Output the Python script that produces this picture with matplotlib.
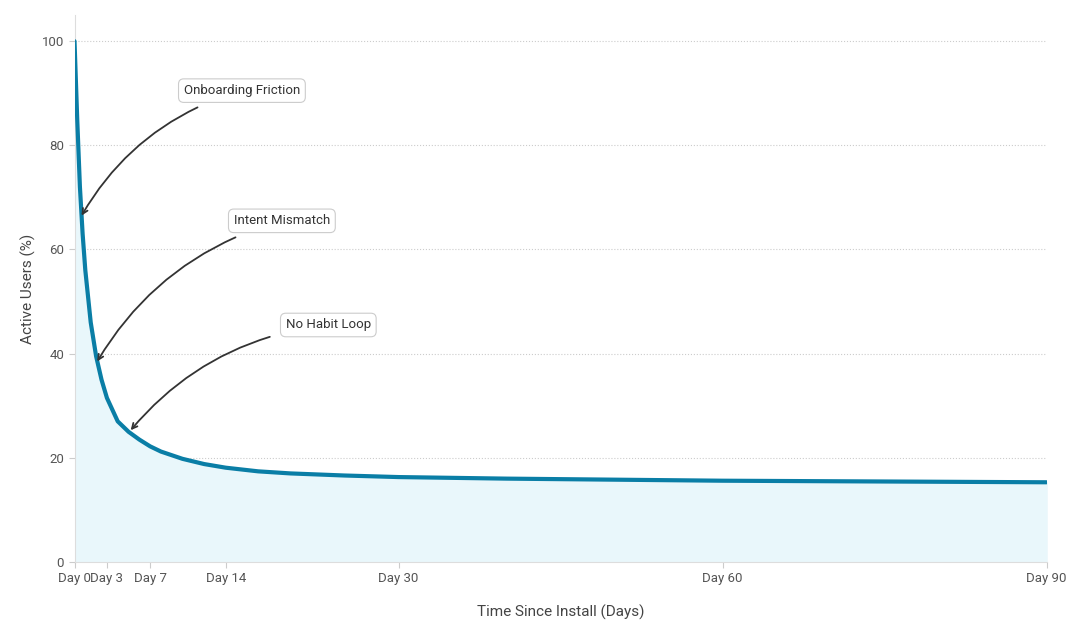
import matplotlib
matplotlib.use("Agg")
import matplotlib.pyplot as plt

days = [0, 0.25, 0.5, 0.75, 1, 1.5, 2, 2.5, 3, 4, 5, 6, 7, 8, 10, 12, 14, 17, 20, 25, 30, 40, 50, 60, 70, 80, 90]
active = [100, 85, 72, 63, 56, 46, 39.5, 35, 31.5, 27, 25, 23.5, 22.2, 21.2, 19.8, 18.8, 18.1, 17.4, 17.0, 16.6, 16.3, 16.0, 15.8, 15.6, 15.5, 15.4, 15.3]
tick_days = [0, 3, 7, 14, 30, 60, 90]
tick_labels = ["Day 0", "Day 3", "Day 7", "Day 14", "Day 30", "Day 60", "Day 90"]
notes = ["Onboarding Friction", "Intent Mismatch", "No Habit Loop"]
note_xy = [(0.65, 66.5), (2.1, 38.5), (5.2, 25.3)]
note_text_xy = [(15.5, 90.5), (19.2, 65.5), (23.5, 45.5)]

plt.rcParams['font.family'] = ['Roboto', 'DejaVu Sans']
fig = plt.figure(figsize=(10.8, 6.3), dpi=100)
ax = fig.add_axes([0.069, 0.108, 0.9, 0.868])
line_c = "#0a7ea6"
ax.fill_between(days, active, 0, color="#e9f7fb", zorder=1)
ax.plot(days, active, color=line_c, lw=3, zorder=3, solid_capstyle="round")
ax.set_xlim(0, 90)
ax.set_ylim(0, 105)
ax.set_yticks([0, 20, 40, 60, 80, 100])
ax.set_xticks(tick_days)
ax.set_xticklabels(tick_labels)
ax.grid(axis="y", linestyle=":", color="#cccccc", lw=0.8)
ax.set_axisbelow(True)
for s in ["top", "right"]:
    ax.spines[s].set_visible(False)
for s in ["left", "bottom"]:
    ax.spines[s].set_color("#dddddd")
ax.tick_params(colors="#555555", labelsize=9.5, length=4)
ax.tick_params(color="#cccccc")
ax.set_xlabel("Time Since Install (Days)", color="#444444", fontsize=11, labelpad=14)
ax.set_ylabel("Active Users (%)", color="#444444", fontsize=11)
for t, xy, txy in zip(notes, note_xy, note_text_xy):
    ax.annotate(t, xy=xy, xytext=txy, fontsize=9.5, color="#333333",
                ha="center", va="center",
                bbox=dict(boxstyle="round,pad=0.4", fc="white", ec="#cccccc", lw=0.8),
                arrowprops=dict(arrowstyle="->", color="#333333", lw=1.3,
                                connectionstyle="arc3,rad=0.2", shrinkA=8, shrinkB=0),
                zorder=5)
fig.savefig("out.png")
